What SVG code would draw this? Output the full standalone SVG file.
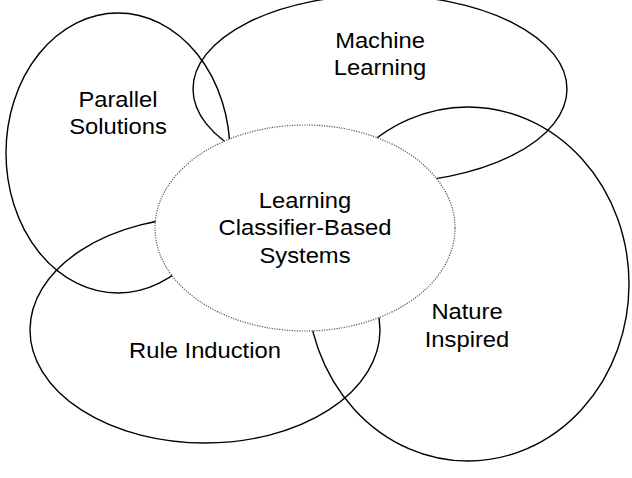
<svg xmlns="http://www.w3.org/2000/svg" width="632" height="478" viewBox="0 0 632 478">
<style>
.area{fill:none;stroke:#000;stroke-width:1.4}
.core{fill:#fff;stroke:#555;stroke-width:1.2;stroke-dasharray:1.2 1.3}
.lbl{font-family:"Liberation Sans",Arial,sans-serif;font-size:22px;fill:#000;text-anchor:middle}
</style>
<rect width="632" height="478" fill="#fff"/>
<g id="parallel-solutions">
<ellipse class="area" cx="118" cy="153" rx="112" ry="140"/>
<g transform="translate(118,0) scale(1.08,1)"><text class="lbl" x="0" y="107">Parallel</text><text class="lbl" x="0" y="134">Solutions</text></g>
</g>
<g id="machine-learning">
<ellipse class="area" cx="380" cy="89" rx="187" ry="94"/>
<g transform="translate(380,0) scale(1.08,1)"><text class="lbl" x="0" y="48">Machine</text><text class="lbl" x="0" y="75">Learning</text></g>
</g>
<g id="nature-inspired">
<ellipse class="area" cx="468" cy="284" rx="161" ry="177"/>
<g transform="translate(467,0) scale(1.08,1)"><text class="lbl" x="0" y="319">Nature</text><text class="lbl" x="0" y="347">Inspired</text></g>
</g>
<g id="rule-induction">
<ellipse class="area" cx="205" cy="330" rx="175" ry="113"/>
<g transform="translate(205,0) scale(1.08,1)"><text class="lbl" x="0" y="358">Rule Induction</text></g>
</g>
<g id="lcs">
<ellipse class="core" cx="305" cy="228" rx="150" ry="103"/>
<g transform="translate(305,0) scale(1.08,1)"><text class="lbl" x="0" y="208">Learning</text><text class="lbl" x="0" y="235">Classifier-Based</text><text class="lbl" x="0" y="263">Systems</text></g>
</g>
<g id="connectors"></g>
</svg>
